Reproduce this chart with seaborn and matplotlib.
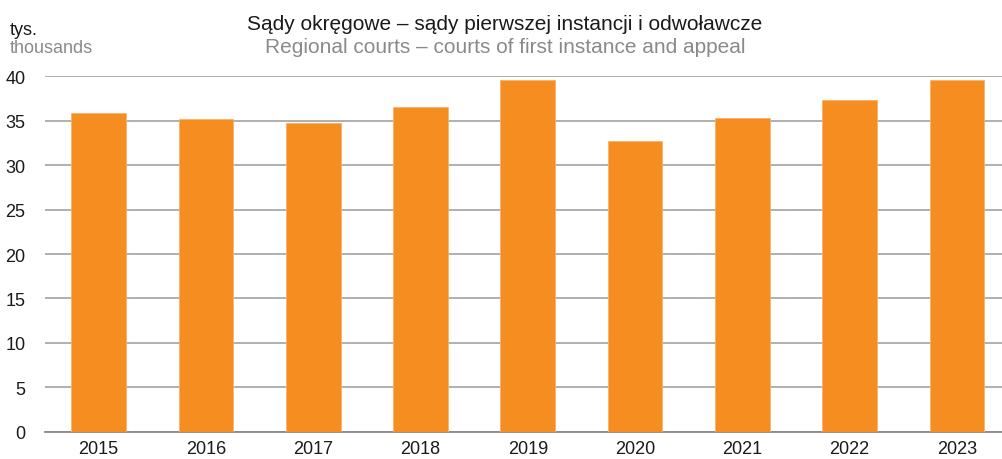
import seaborn as sns
import matplotlib.pyplot as plt
import pandas as pd

years = ['2015', '2016', '2017', '2018', '2019', '2020', '2021', '2022', '2023']
values = [35.9, 35.2, 34.7, 36.6, 39.6, 32.7, 35.3, 37.3, 39.6]
y_ticks = [0, 5, 10, 15, 20, 25, 30, 35, 40]

title_pl = 'Sądy okręgowe – sądy pierwszej instancji i odwoławcze'
title_en = 'Regional courts – courts of first instance and appeal'

df = pd.DataFrame({'year': years, 'value': values})

sns.set_style('white')
plt.rcParams['font.family'] = ['Liberation Sans', 'DejaVu Sans']

fig = plt.figure(figsize=(10.03, 4.6), dpi=100)
ax = fig.add_axes([45 / 1003, 27.2 / 460, 958 / 1003, 355.5 / 460])

sns.barplot(data=df, x='year', y='value', color='#F58D21', saturation=1,
            width=0.51, edgecolor='#F9B36A', linewidth=0.6, ax=ax, zorder=3)

ax.set_ylim(0, 40)
ax.set_xlim(-0.5, 8.43)
ax.set_yticks(y_ticks)
ax.yaxis.grid(True, color='#9a9a9a', linewidth=1.1, zorder=0)
ax.set_axisbelow(True)
for side in ['top', 'right', 'left']:
    ax.spines[side].set_visible(False)
ax.spines['bottom'].set_color('#8a8a8a')
ax.spines['bottom'].set_linewidth(1.3)
ax.tick_params(axis='both', length=0, labelsize=13, colors='#1a1a1a')
ax.tick_params(axis='y', pad=14)
ax.tick_params(axis='x', pad=6)
ax.set_xlabel('')
ax.set_ylabel('')

# titles and unit labels (positioned by baseline)
fig.text(0.5035, 1 - 30 / 460, title_pl, ha='center', va='baseline', fontsize=15, color='#1a1a1a')
fig.text(0.5035, 1 - 53 / 460, title_en, ha='center', va='baseline', fontsize=15, color='#8a8a8a')
fig.text(10 / 1003, 1 - 35 / 460, 'tys.', ha='left', va='baseline', fontsize=13, color='#1a1a1a')
fig.text(10 / 1003, 1 - 53 / 460, 'thousands', ha='left', va='baseline', fontsize=13, color='#8a8a8a')

fig.savefig('out.png', dpi=100)
